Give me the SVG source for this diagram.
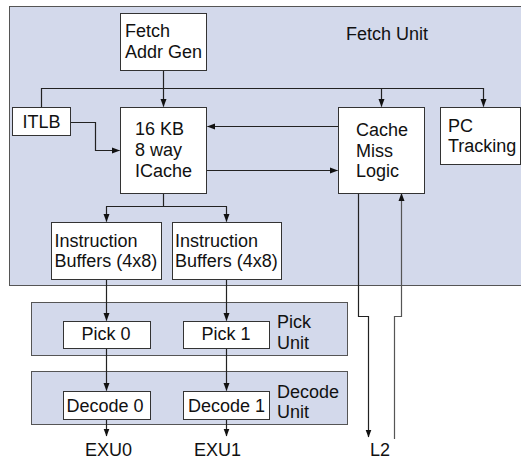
<svg xmlns="http://www.w3.org/2000/svg" width="521" height="459" viewBox="0 0 521 459">
  <style>
    .panel { fill: #d3d9eb; stroke: #555; stroke-width: 1; }
    .box { fill: #fff; stroke: #333; stroke-width: 1; }
    .txt { font-family: "Liberation Sans", Arial, sans-serif; font-size: 18px; fill: #111; }
    .wire { fill: none; stroke: #222; stroke-width: 1.2; }
    .wire2 { fill: none; stroke: #555; stroke-width: 1.2; }
  </style>
  <defs>
    <marker id="arr" markerWidth="8" markerHeight="8" refX="7.5" refY="4" orient="auto" markerUnits="userSpaceOnUse">
      <path d="M0,1 L8,4 L0,7 Z" fill="#111"/>
    </marker>
  </defs>
  <rect width="521" height="459" fill="#fff"/>

  <!-- unit panels -->
  <g id="fetch-unit">
    <rect class="panel" x="9.5" y="6.5" width="520" height="279"/>
    <text class="txt" x="346" y="40">Fetch Unit</text>
  </g>
  <g id="pick-unit">
    <rect class="panel" x="31.5" y="302.5" width="316" height="53"/>
    <text class="txt" x="277" y="328">Pick</text>
    <text class="txt" x="277" y="349">Unit</text>
  </g>
  <g id="decode-unit">
    <rect class="panel" x="31.5" y="371.5" width="316" height="53"/>
    <text class="txt" x="277" y="398">Decode</text>
    <text class="txt" x="277" y="418">Unit</text>
  </g>

  <!-- connectors -->
  <g id="connectors">
    <!-- fetch address bus -->
    <line class="wire" x1="163.5" y1="70" x2="163.5" y2="106.5" marker-end="url(#arr)"/>
    <polyline class="wire" points="41.5,107 41.5,88.5 483.5,88.5 483.5,106.5" marker-end="url(#arr)"/>
    <line class="wire" x1="381.5" y1="88.5" x2="381.5" y2="106.5" marker-end="url(#arr)"/>
    <!-- ITLB to ICache -->
    <polyline class="wire" points="71,122.5 95.5,122.5 95.5,150.5 119.5,150.5" marker-end="url(#arr)"/>
    <!-- Cache Miss Logic to ICache -->
    <line class="wire" x1="338" y1="126.5" x2="207.5" y2="126.5" marker-end="url(#arr)"/>
    <!-- ICache to Cache Miss Logic -->
    <line class="wire" x1="207" y1="170.5" x2="337.5" y2="170.5" marker-end="url(#arr)"/>
    <!-- ICache to instruction buffers -->
    <line class="wire" x1="163.5" y1="193" x2="163.5" y2="206.5"/>
    <line class="wire" x1="106" y1="206.5" x2="227" y2="206.5"/>
    <line class="wire" x1="106.5" y1="206.5" x2="106.5" y2="221.5" marker-end="url(#arr)"/>
    <line class="wire" x1="226.5" y1="206.5" x2="226.5" y2="221.5" marker-end="url(#arr)"/>
    <!-- buffers to pick -->
    <line class="wire" x1="106.5" y1="280" x2="106.5" y2="320.5" marker-end="url(#arr)"/>
    <line class="wire" x1="226.5" y1="280" x2="226.5" y2="320.5" marker-end="url(#arr)"/>
    <!-- pick to decode -->
    <line class="wire" x1="106.5" y1="348" x2="106.5" y2="390.5" marker-end="url(#arr)"/>
    <line class="wire" x1="226.5" y1="348" x2="226.5" y2="390.5" marker-end="url(#arr)"/>
    <!-- decode to execution units -->
    <line class="wire" x1="106.5" y1="420" x2="106.5" y2="436" marker-end="url(#arr)"/>
    <line class="wire" x1="226.5" y1="420" x2="226.5" y2="436" marker-end="url(#arr)"/>
    <!-- L2 request / fill -->
    <polyline class="wire" points="358.5,193 358.5,316.5 368.5,316.5 368.5,437" marker-end="url(#arr)"/>
    <polyline class="wire2" points="394.5,439 394.5,316.5 401.5,316.5 401.5,193.5" marker-end="url(#arr)"/>
  </g>

  <!-- nodes -->
  <g id="fetch-addr-gen">
    <rect class="box" x="120.5" y="13.5" width="86" height="57"/>
    <text class="txt" x="125" y="37">Fetch</text>
    <text class="txt" x="125" y="58">Addr Gen</text>
  </g>
  <g id="itlb">
    <rect class="box" x="12.5" y="107.5" width="58" height="28"/>
    <text class="txt" x="22.5" y="128">ITLB</text>
  </g>
  <g id="icache">
    <rect class="box" x="120.5" y="107.5" width="86" height="86"/>
    <text class="txt" x="135" y="135">16 KB</text>
    <text class="txt" x="135" y="156">8 way</text>
    <text class="txt" x="135" y="177">ICache</text>
  </g>
  <g id="cache-miss-logic">
    <rect class="box" x="338.5" y="107.5" width="86" height="86"/>
    <text class="txt" x="356" y="136">Cache</text>
    <text class="txt" x="356" y="157">Miss</text>
    <text class="txt" x="356" y="177">Logic</text>
  </g>
  <g id="pc-tracking">
    <rect class="box" x="440.5" y="107.5" width="80" height="57"/>
    <text class="txt" x="448" y="132">PC</text>
    <text class="txt" x="448" y="152">Tracking</text>
  </g>
  <g id="ibuf0">
    <rect class="box" x="51.5" y="222.5" width="110" height="57"/>
    <text class="txt" x="54.5" y="247">Instruction</text>
    <text class="txt" x="54.5" y="267">Buffers (4x8)</text>
  </g>
  <g id="ibuf1">
    <rect class="box" x="172.5" y="222.5" width="109" height="57"/>
    <text class="txt" x="175" y="247">Instruction</text>
    <text class="txt" x="175" y="267">Buffers (4x8)</text>
  </g>
  <g id="pick0">
    <rect class="box" x="63.5" y="321.5" width="87" height="27"/>
    <text class="txt" x="81.5" y="340">Pick 0</text>
  </g>
  <g id="pick1">
    <rect class="box" x="183.5" y="321.5" width="86" height="27"/>
    <text class="txt" x="201.5" y="340">Pick 1</text>
  </g>
  <g id="decode0">
    <rect class="box" x="63.5" y="391.5" width="87" height="28"/>
    <text class="txt" x="66.5" y="412">Decode 0</text>
  </g>
  <g id="decode1">
    <rect class="box" x="183.5" y="391.5" width="86" height="28"/>
    <text class="txt" x="188" y="412">Decode 1</text>
  </g>

  <!-- destination labels -->
  <text class="txt" x="85" y="456">EXU0</text>
  <text class="txt" x="194" y="456">EXU1</text>
  <text class="txt" x="370" y="456">L2</text>
</svg>
